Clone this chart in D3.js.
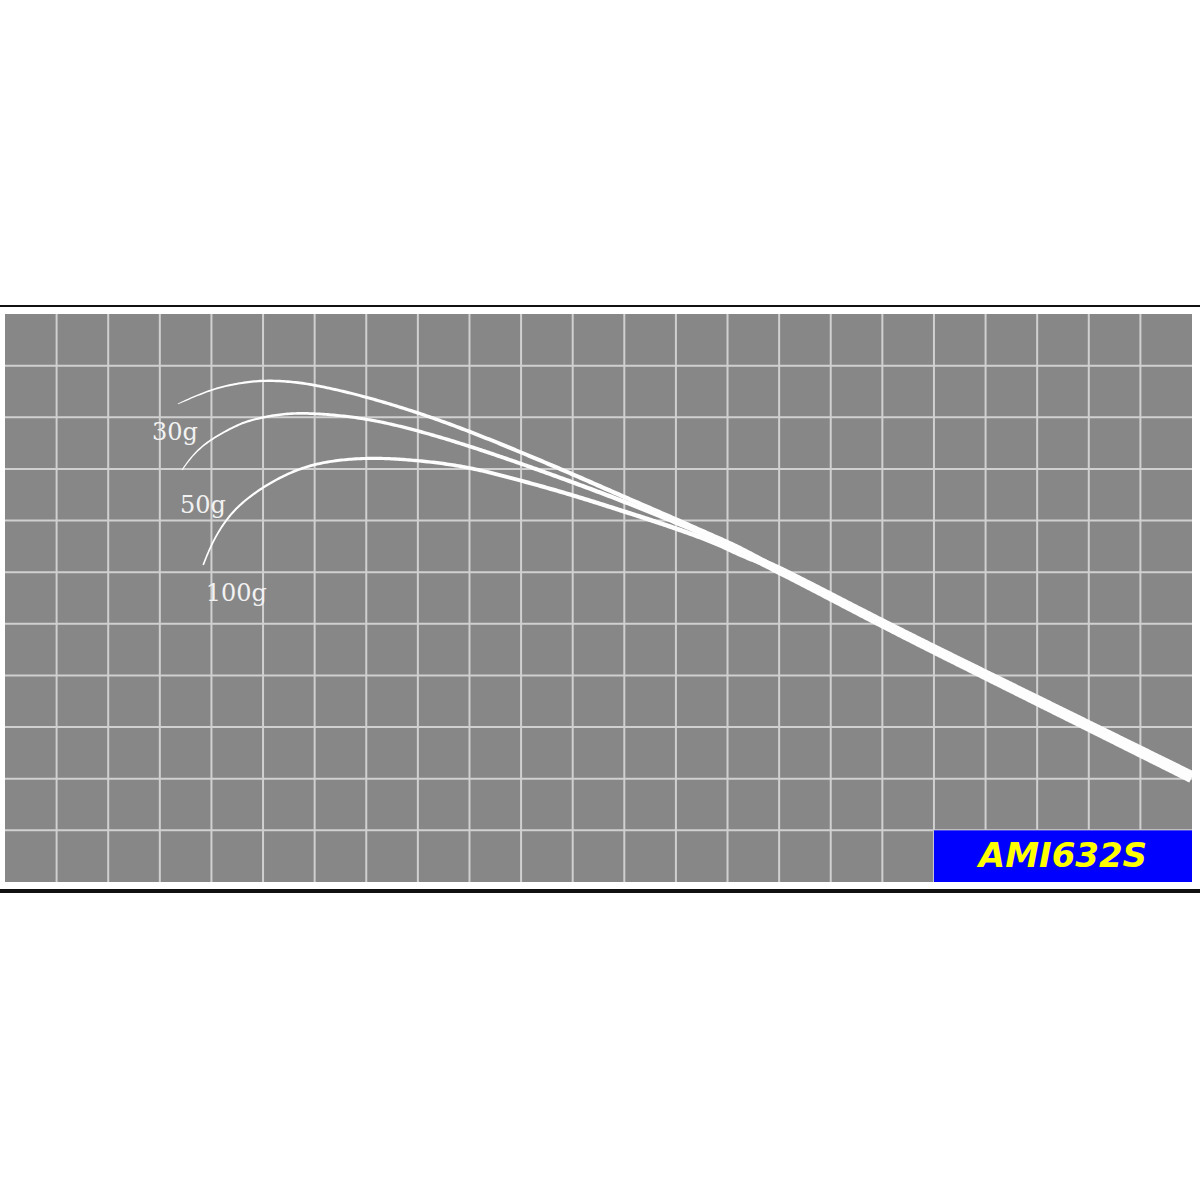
<!DOCTYPE html>
<html>
<head>
<meta charset="utf-8">
<script src="https://cdn.jsdelivr.net/npm/d3@7"></script>
<style>
  html, body { margin: 0; padding: 0; background: #fff; }
  svg { display: block; }
</style>
</head>
<body>
<div id="chart"></div>
<script>
// bend curves, in grid cells (x: 0..23 from left, y: 0..11 from top)
const curve30x = [3.35, 3.78, 4.17, 4.65, 5.08, 5.72, 6.36, 7.02, 7.98, 8.95, 9.98, 10.95, 11.92, 12.89, 13.86, 14.24, 15.01];
const curve30y = [1.74, 1.55, 1.41, 1.32, 1.28, 1.32, 1.45, 1.61, 1.90, 2.25, 2.67, 3.08, 3.51, 3.93, 4.36, 4.53, 4.95];

const curve50x = [3.43, 3.68, 4.03, 4.46, 4.75, 5.39, 6.05, 7.02, 7.98, 8.95, 9.98, 10.95, 11.92, 12.89, 13.86, 14.24, 15.01];
const curve50y = [3.02, 2.67, 2.40, 2.17, 2.05, 1.92, 1.92, 2.02, 2.25, 2.54, 2.89, 3.24, 3.60, 3.99, 4.40, 4.59, 4.95];

const curve100x = [3.84, 4.03, 4.36, 4.81, 5.39, 6.05, 7.02, 7.98, 8.95, 9.98, 10.95, 11.92, 12.89, 13.86, 14.24, 15.01];
const curve100y = [4.86, 4.38, 3.86, 3.47, 3.12, 2.87, 2.77, 2.83, 2.95, 3.22, 3.49, 3.80, 4.11, 4.46, 4.67, 4.95];

// butt section shared by all three curves
const tailX = [14.05, 15.01, 17.00, 18.94, 20.82, 23.0];
const tailY = [4.52, 4.95, 6.00, 6.96, 7.89, 8.97];

const loadLabels = ["30g", "50g", "100g"];
const labelX = [2.85, 3.39, 3.89];
const labelY = [2.44, 3.86, 5.56];

const modelName = "AMI632S";

const W = 1200, H = 1200;
const cols = 23, rows = 11;

const x = d3.scaleLinear().domain([0, cols]).range([5, 1192]);
const y = d3.scaleLinear().domain([0, rows]).range([314, 882]);

const svg = d3.select("#chart").append("svg")
  .attr("width", W)
  .attr("height", H);

// frame lines
svg.append("rect").attr("x", 0).attr("y", 305).attr("width", W).attr("height", 2).attr("fill", "#111");
svg.append("rect").attr("x", 0).attr("y", 889).attr("width", W).attr("height", 4).attr("fill", "#111");

// panel
svg.append("rect")
  .attr("x", x(0)).attr("y", y(0))
  .attr("width", x(cols) - x(0)).attr("height", y(rows) - y(0))
  .attr("fill", "#878787");

// grid
const grid = svg.append("g").attr("stroke", "#d0d0d0").attr("stroke-width", 2);
grid.selectAll("line.v")
  .data(d3.range(1, cols))
  .enter().append("line")
  .attr("class", "v")
  .attr("x1", d => x(d)).attr("x2", d => x(d))
  .attr("y1", y(0)).attr("y2", y(rows));
grid.selectAll("line.h")
  .data(d3.range(1, rows))
  .enter().append("line")
  .attr("class", "h")
  .attr("x1", x(0)).attr("x2", x(cols))
  .attr("y1", d => y(d)).attr("y2", d => y(d));

// rod curves: sample the smooth path and fill a band that widens toward the butt
const line = d3.line().x(d => x(d[0])).y(d => y(d[1])).curve(d3.curveBasis);
const band = d3.line().curve(d3.curveLinearClosed);
const tipWidth = px => 0.8 + 4 * Math.sqrt(Math.min(1.2, Math.max(0, (px - 180) / 560)));
const buttWidth = px => {
  const a = x(tailX[0]), b = x(tailX[1]), e = x(cols);
  return px < b ? 6 + 3 * (px - a) / (b - a) : 9 + 3 * (px - b) / (e - b);
};

function drawPiece(xs, ys, widthAt) {
  const pts = xs.map((v, i) => [v, ys[i]]);
  const tmp = svg.append("path").attr("d", line(pts)).attr("fill", "none");
  const node = tmp.node();
  const len = node.getTotalLength();
  const n = Math.ceil(len / 2);
  const samples = d3.range(n + 1).map(i => node.getPointAtLength(len * i / n));
  tmp.remove();
  const left = [], right = [];
  samples.forEach((p, i) => {
    const a = samples[Math.max(0, i - 1)], b = samples[Math.min(n, i + 1)];
    const dx = b.x - a.x, dy = b.y - a.y, d = Math.hypot(dx, dy) || 1;
    const nx = -dy / d, ny = dx / d, h = widthAt(p.x) / 2;
    left.push([p.x + nx * h, p.y + ny * h]);
    right.push([p.x - nx * h, p.y - ny * h]);
  });
  svg.append("path")
    .attr("d", band(left.concat(right.reverse())))
    .attr("fill", "#fdfdfd");
}

drawPiece(curve30x, curve30y, tipWidth);
drawPiece(curve50x, curve50y, tipWidth);
drawPiece(curve100x, curve100y, tipWidth);
drawPiece(tailX, tailY, buttWidth);

// load labels
svg.selectAll("text.load")
  .data(loadLabels)
  .enter().append("text")
  .attr("class", "load")
  .attr("x", (d, i) => x(labelX[i]))
  .attr("y", (d, i) => y(labelY[i]))
  .attr("font-family", "'DejaVu Serif', serif")
  .attr("font-size", 24)
  .attr("fill", "#f2f2f2")
  .text(d => d);

// keep the butt inside the panel
svg.append("rect").attr("x", x(cols)).attr("y", y(0)).attr("width", W - x(cols)).attr("height", y(rows) - y(0)).attr("fill", "#fff");

// model name box
svg.append("rect")
  .attr("x", x(18)).attr("y", y(10))
  .attr("width", x(cols) - x(18)).attr("height", y(rows) - y(10))
  .attr("fill", "#0000ff");

svg.append("text")
  .attr("x", (x(18) + x(cols)) / 2)
  .attr("y", y(10.7))
  .attr("text-anchor", "middle")
  .attr("font-family", "'DejaVu Sans', sans-serif")
  .attr("font-weight", "bold")
  .attr("font-style", "italic")
  .attr("font-size", 34)
  .attr("fill", "#ffff00")
  .text(modelName);
</script>
</body>
</html>
